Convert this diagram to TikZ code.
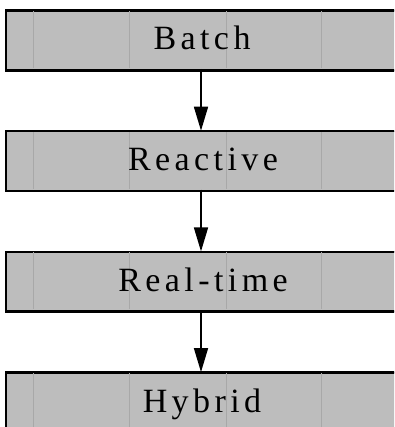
\documentclass[tikz,border=0pt]{standalone}
\usepackage{fontspec}
\setmainfont{Liberation Serif}[LetterSpace=13]
\usetikzlibrary{arrows.meta}
\definecolor{boxgray}{HTML}{BDBDBD}
\tikzset{
  stage/.style={draw=black, line width=1.8pt, fill=boxgray, minimum width=420pt, minimum height=59pt, inner sep=0pt, anchor=north west},
  flow/.style={line width=1.6pt, -{Triangle[width=14pt,length=24pt]}, shorten >=0pt},
  lab/.style={font=\fontsize{34}{34}\selectfont, inner sep=0pt, anchor=base},
  scanline/.style={gray!35!boxgray, line width=0.5pt}
}
\begin{document}
\begin{tikzpicture}[x=1pt,y=-1pt]
\useasboundingbox (0,0) rectangle (394,427);
\begin{scope}
\clip (0,0) rectangle (394,427);
\node[stage] (b1) at (5.5,10) {};
\node[stage] (b2) at (5.5,130.7) {};
\node[stage] (b3) at (5.5,251.4) {};
\node[stage] (b4) at (5.5,372.1) {};
\foreach \t in {10,130.7,251.4,372.1}{
  \foreach \x in {33,129,226,321}{
    \draw[scanline] (\x,\t+1) -- (\x,\t+58);
  }
}
\foreach \n in {b1,b2,b3,b4}{
  \draw[line width=1.8pt] (\n.north west) rectangle (\n.south east);
}
\end{scope}
\coordinate (a1s) at (201,69);
\coordinate (a1e) at (201,130.7);
\coordinate (a2s) at (201,189.7);
\coordinate (a2e) at (201,251.4);
\coordinate (a3s) at (201,310.4);
\coordinate (a3e) at (201,372.1);
\draw[flow] (a1s) -- (a1e);
\draw[flow] (a2s) -- (a2e);
\draw[flow] (a3s) -- (a3e);
\node[lab] (t1) at (202,49.5) {Batch};
\node[lab] (t2) at (203,170.5) {Reactive};
\node[lab] (t3) at (203,291.5) {Real-time};
\node[lab] (t4) at (202,412) {Hybrid};
\end{tikzpicture}
\end{document}
